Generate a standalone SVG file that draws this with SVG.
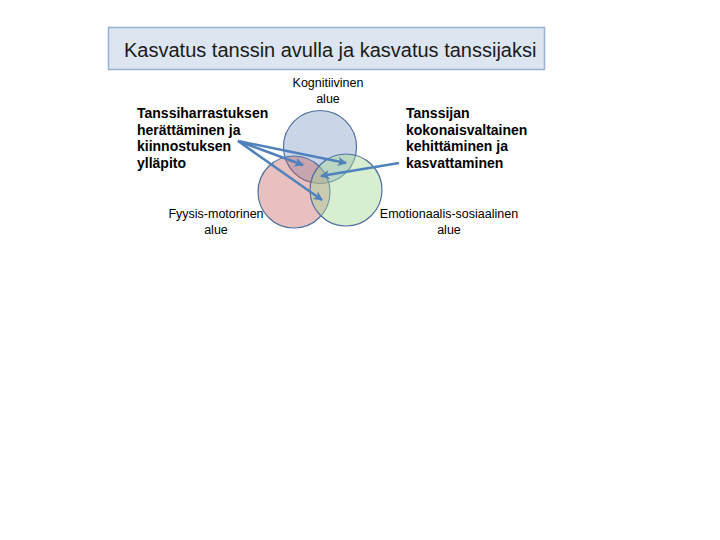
<svg xmlns="http://www.w3.org/2000/svg" width="720" height="540" viewBox="0 0 720 540">
<style>
.lbl{font-family:"Liberation Sans",Arial,sans-serif;font-size:12.5px;fill:#000;text-anchor:middle}
.bold{font-family:"Liberation Sans",Arial,sans-serif;font-size:14px;font-weight:bold;fill:#000}
.circ{stroke:#4f6f9e;stroke-width:1.2}
.arr{stroke:#4f81bd;stroke-width:2.5;fill:none;marker-end:url(#ah)}
</style>
<defs>
<marker id="ah" viewBox="0 0 10 10" refX="8" refY="5" markerWidth="4.2" markerHeight="4.2" orient="auto" markerUnits="strokeWidth">
<path d="M0,0.5 L9,5 L0,9.5 L2.5,5 z" fill="#4f81bd"/>
</marker>
</defs>
<rect width="720" height="540" fill="#fff"/>
<g id="title">
<rect x="108.5" y="27.5" width="436" height="42" fill="#dce5f0" stroke="#98b0d4" stroke-width="1.5"/>
<text x="124" y="57" font-family="Liberation Sans, Arial, sans-serif" font-size="20" fill="#1a1a1a">Kasvatus tanssin avulla ja kasvatus tanssijaksi</text>
</g>
<g id="circle-kognitiivinen">
<circle class="circ" cx="320" cy="147" r="36.5" fill="#4f74b0" fill-opacity="0.3"/>
</g>
<g id="circle-fyysis">
<circle class="circ" cx="294" cy="192" r="36" fill="#c0504d" fill-opacity="0.36"/>
</g>
<g id="circle-emotionaalis">
<circle class="circ" cx="346" cy="190" r="36" fill="#a6d99a" fill-opacity="0.45"/>
</g>
<g id="label-kognitiivinen">
<text class="lbl" x="328" y="87">Kognitiivinen</text>
<text class="lbl" x="328" y="103">alue</text>
</g>
<g id="label-fyysis">
<text class="lbl" x="216" y="218">Fyysis-motorinen</text>
<text class="lbl" x="216" y="234">alue</text>
</g>
<g id="label-emotionaalis">
<text class="lbl" x="449" y="218">Emotionaalis-sosiaalinen</text>
<text class="lbl" x="449" y="234">alue</text>
</g>
<g id="text-left">
<text class="bold" x="137" y="118">Tanssiharrastuksen</text>
<text class="bold" x="137" y="134.5">herättäminen ja</text>
<text class="bold" x="137" y="151">kiinnostuksen</text>
<text class="bold" x="137" y="167.5">ylläpito</text>
</g>
<g id="text-right">
<text class="bold" x="406" y="118">Tanssijan</text>
<text class="bold" x="406" y="134.5">kokonaisvaltainen</text>
<text class="bold" x="406" y="151">kehittäminen ja</text>
<text class="bold" x="406" y="167.5">kasvattaminen</text>
</g>
<g id="connectors">
<line class="arr" x1="238" y1="141" x2="303" y2="165"/>
<line class="arr" x1="238" y1="141" x2="346" y2="163"/>
<line class="arr" x1="238" y1="141" x2="322" y2="200"/>
<line class="arr" x1="399" y1="163" x2="321" y2="176"/>
</g>
</svg>
